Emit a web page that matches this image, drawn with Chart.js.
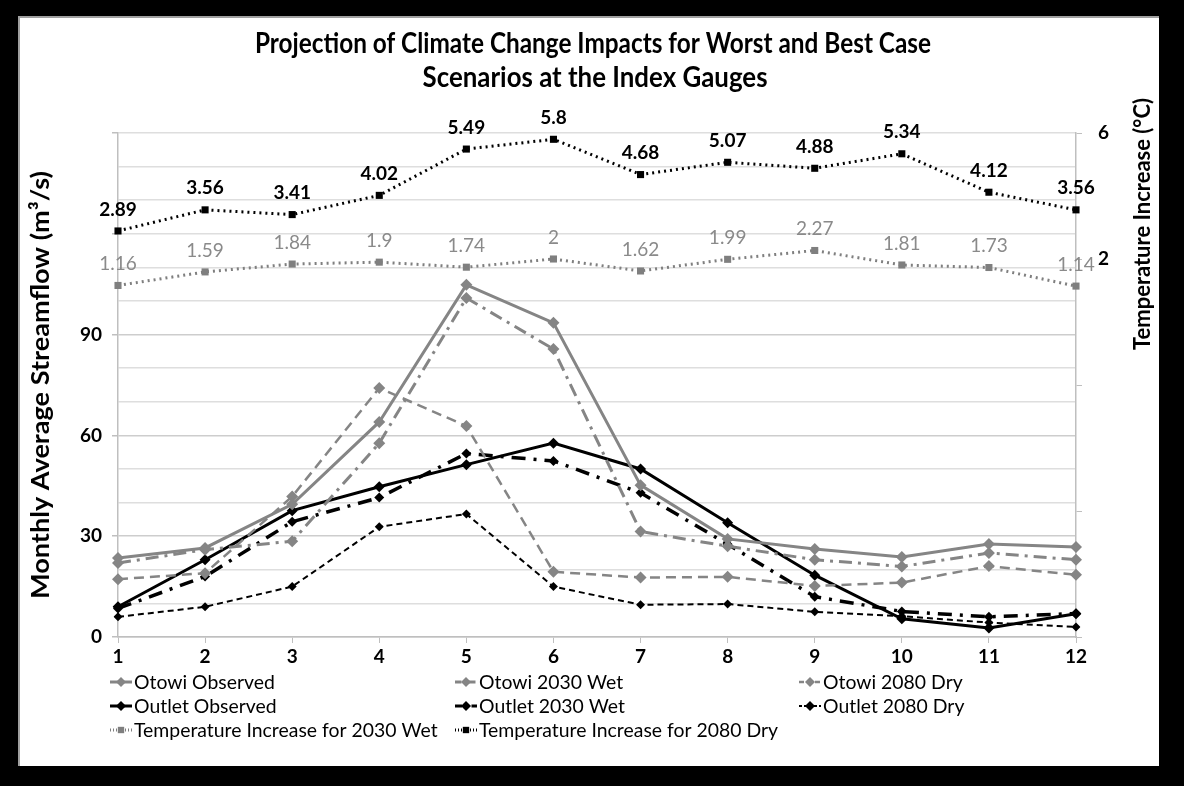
<!DOCTYPE html>
<html>
<head>
<meta charset="utf-8">
<script src="https://cdn.jsdelivr.net/npm/chart.js@4.4.1/dist/chart.umd.min.js"></script>
<style>
    html, body { margin: 0; padding: 0; background: #000; width: 1184px; height: 786px; overflow: hidden; }
    #frame { position: absolute; left: 18px; top: 16px; width: 1141px; height: 750px; background: #fff; box-shadow: inset 2px 2px 0 #a0a0a0; }
    canvas { display: block; }
</style>
</head>
<body>
<div id="frame"><canvas id="chart" width="1141" height="750"></canvas></div>
<script>
// months on the x axis
const months = ['1', '2', '3', '4', '5', '6', '7', '8', '9', '10', '11', '12'];

// streamflow, m3/s (left axis)
const otowiObserved  = [23.5, 26.5, 39.5, 64, 104.8, 93.5, 45.2, 29.2, 26.2, 23.8, 27.7, 26.8];
const otowi2030Wet   = [22, 26, 28.5, 57.7, 100.9, 85.7, 31.4, 27, 23, 21, 25, 23];
const otowi2080Dry   = [17.2, 19, 41.8, 74.1, 62.8, 19.4, 17.7, 17.9, 15.2, 16.2, 21.1, 18.5];
const outletObserved = [9, 23, 37.6, 44.7, 51.3, 57.7, 50, 34, 18.4, 5.4, 2.7, 6.9];
const outlet2030Wet  = [8.5, 18, 34.3, 41.5, 54.6, 52.4, 42.9, 27.6, 12, 7.6, 6, 7];
const outlet2080Dry  = [6, 9, 15, 32.8, 36.6, 15, 9.6, 9.8, 7.5, 6.2, 4.3, 3];

// temperature increase, degC (right axis)
const temp2030Wet = [1.16, 1.59, 1.84, 1.9, 1.74, 2, 1.62, 1.99, 2.27, 1.81, 1.73, 1.14];
const temp2080Dry = [2.89, 3.56, 3.41, 4.02, 5.49, 5.8, 4.68, 5.07, 4.88, 5.34, 4.12, 3.56];

// axis ticks
const flowTicks = [0, 10, 20, 30, 40, 50, 60, 70, 80, 90, 100, 110, 120, 130, 140, 150];
const flowLabels = [0, 30, 60, 90];
const tempTicks = [-10, -6, -2, 2, 6];
const tempLabels = [2, 6];

const FONT = "Lato, 'Open Sans', sans-serif";
const GREY = '#858585';

function series(label, data, color, dash, width, style, radius, axis) {
    return {
        label: label,
        data: data,
        yAxisID: axis || 'y',
        borderColor: color,
        backgroundColor: color,
        borderWidth: width,
        borderDash: dash,
        pointStyle: style,
        pointRadius: radius,
        pointHoverRadius: radius,
        pointBorderWidth: 0,
        pointBackgroundColor: color,
        tension: 0,
        fill: false
    };
}

const datasets = [
    series('Otowi Observed', otowiObserved, GREY, [], 3, 'rectRot', 6),
    series('Otowi 2030 Wet', otowi2030Wet, GREY, [13, 6, 3, 6], 3, 'rectRot', 6),
    series('Otowi 2080 Dry', otowi2080Dry, GREY, [10, 6], 2.5, 'rectRot', 6),
    series('Outlet Observed', outletObserved, '#000', [], 3, 'rectRot', 5.5),
    series('Outlet 2030 Wet', outlet2030Wet, '#000', [14, 8, 3, 8], 3.5, 'rectRot', 5),
    series('Outlet 2080 Dry', outlet2080Dry, '#000', [6, 4], 2, 'rectRot', 4.5),
    series('Temperature Increase for 2030 Wet', temp2030Wet, '#7f7f7f', [2, 4], 3, 'rect', 5, 'y2'),
    series('Temperature Increase for 2080 Dry', temp2080Dry, '#000', [2, 4], 3, 'rect', 5, 'y2')
];
datasets[6].valueStyle = { color: '#8a8a8a', font: '19px ' + FONT };
datasets[7].valueStyle = { color: '#000', font: 'bold 19px ' + FONT };

// numbers above the temperature points
const valuePlugin = {
    id: 'valueLabels',
    afterDatasetsDraw(chart) {
        const ctx = chart.ctx;
        chart.data.datasets.forEach((ds, i) => {
            if (!ds.valueStyle) return;
            const meta = chart.getDatasetMeta(i);
            ctx.save();
            ctx.font = ds.valueStyle.font;
            ctx.fillStyle = ds.valueStyle.color;
            ctx.textAlign = 'center';
            ctx.textBaseline = 'bottom';
            meta.data.forEach((pt, j) => {
                ctx.fillText(String(ds.data[j]), pt.x, pt.y - 12);
            });
            ctx.restore();
        });
    }
};

function drawMarker(ctx, style, x, y, r) {
    ctx.beginPath();
    if (style === 'rect') {
        const s = r * Math.SQRT1_2;
        ctx.rect(x - s, y - s, 2 * s, 2 * s);
    } else {
        ctx.moveTo(x - r, y);
        ctx.lineTo(x, y - r);
        ctx.lineTo(x + r, y);
        ctx.lineTo(x, y + r);
        ctx.closePath();
    }
    ctx.fill();
}

// text squeezed sideways to a given width
function fitText(ctx, text, x, y, width) {
    const sx = width / ctx.measureText(text).width;
    ctx.save();
    ctx.translate(x, y);
    ctx.scale(sx, 1);
    ctx.fillText(text, 0, 0);
    ctx.restore();
}

// vertical text, read bottom to top, with its glyphs a little flattened
function sideText(ctx, text, x, y, length) {
    ctx.save();
    ctx.translate(x, y);
    ctx.rotate(-Math.PI / 2);
    ctx.scale(length / ctx.measureText(text).width, 0.9);
    ctx.fillText(text, 0, 0);
    ctx.restore();
}

// title, axis titles and the 3-column legend
const decorPlugin = {
    id: 'decor',
    afterDraw(chart) {
        const ctx = chart.ctx;
        ctx.save();
        ctx.fillStyle = '#000';
        ctx.textAlign = 'center';
        ctx.textBaseline = 'middle';
        ctx.font = 'bold 29px ' + FONT;
        fitText(ctx, 'Projection of Climate Change Impacts for Worst and Best Case', 575, 28, 676);
        fitText(ctx, 'Scenarios at the Index Gauges', 577, 62, 345);

        ctx.font = 'bold 27px ' + FONT;
        sideText(ctx, 'Monthly Average Streamflow (m\u00B3/s)', 23, 369, 428);
        ctx.font = 'bold 26px ' + FONT;
        sideText(ctx, 'Temperature Increase (\u00B0C)', 1124, 208, 252);

        // legend
        const cols = [92, 437, 781];
        const rows = [666, 690, 714];
        ctx.textAlign = 'left';
        ctx.font = '20px ' + FONT;
        chart.data.datasets.forEach((ds, i) => {
            const x = cols[i % 3];
            const y = rows[Math.floor(i / 3)];
            ctx.save();
            ctx.strokeStyle = ds.borderColor;
            ctx.lineWidth = Math.min(ds.borderWidth, 3);
            ctx.setLineDash(ds.borderDash.map(d => d * 0.5));
            ctx.beginPath();
            ctx.moveTo(x, y);
            ctx.lineTo(x + 22, y);
            ctx.stroke();
            ctx.fillStyle = ds.borderColor;
            drawMarker(ctx, ds.pointStyle, x + 11, y, ds.pointStyle === 'rect' ? 4.5 : 5);
            ctx.restore();
            fitText(ctx, ds.label, x + 24, y + 1, ctx.measureText(ds.label).width * 0.97);
        });
        ctx.restore();
    }
};

const ctx = document.getElementById('chart').getContext('2d');
new Chart(ctx, {
    type: 'line',
    data: { labels: months, datasets: datasets },
    options: {
        responsive: false,
        animation: false,
        layout: { padding: { left: 40, right: 33, top: 117, bottom: 89 } },
        plugins: {
            legend: { display: false },
            title: { display: false },
            tooltip: { enabled: false }
        },
        scales: {
            x: {
                offset: false,
                grid: { drawOnChartArea: false, drawTicks: true, tickLength: 6, color: '#bfbfbf' },
                border: { color: '#bfbfbf', width: 1.5 },
                ticks: { color: '#000', font: { family: FONT, size: 19, weight: 'bold' }, padding: 2, maxRotation: 0, autoSkip: false },
                afterFit: s => { s.height = 40; }
            },
            y: {
                position: 'left',
                min: flowTicks[0],
                max: flowTicks[flowTicks.length - 1],
                afterBuildTicks: s => { s.ticks = flowTicks.map(v => ({ value: v })); },
                ticks: {
                    color: '#000',
                    font: { family: FONT, size: 19, weight: 'bold' },
                    padding: 10,
                    callback: v => flowLabels.includes(v) ? String(v) : ''
                },
                grid: {
                    color: c => flowLabels.includes(c.tick.value) ? '#cdcdcd' : '#dedede',
                    lineWidth: 1.5,
                    tickLength: 6,
                    tickColor: c => c.tick.value % 30 === 0 ? '#bfbfbf' : 'rgba(0,0,0,0)'
                },
                border: { color: '#bfbfbf', width: 1.5 },
                afterFit: s => { s.width = 60; }
            },
            y2: {
                position: 'right',
                min: tempTicks[0],
                max: tempTicks[tempTicks.length - 1],
                afterBuildTicks: s => { s.ticks = tempTicks.map(v => ({ value: v })); },
                ticks: {
                    color: '#000',
                    font: { family: FONT, size: 19, weight: 'bold' },
                    padding: 16,
                    callback: v => tempLabels.includes(v) ? String(v) : ''
                },
                grid: { drawOnChartArea: false, tickLength: 6, color: '#bfbfbf' },
                border: { color: '#bfbfbf', width: 1.5 },
                afterFit: s => { s.width = 50; }
            }
        }
    },
    plugins: [valuePlugin, decorPlugin]
});
</script>
</body>
</html>
